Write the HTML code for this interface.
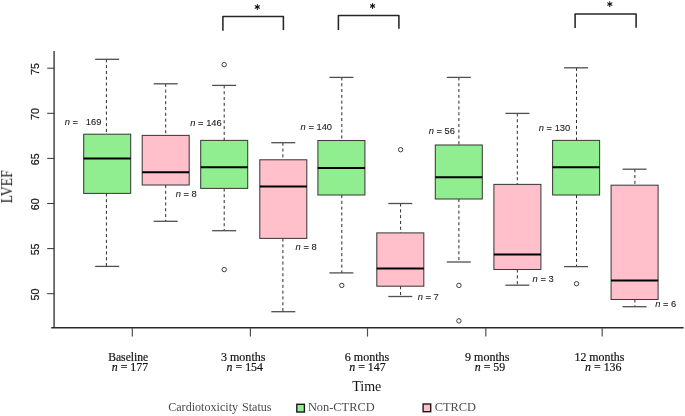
<!DOCTYPE html>
<html><head><meta charset="utf-8"><title>LVEF boxplot</title>
<style>
html,body{margin:0;padding:0;background:#fff;}
body{width:685px;height:416px;overflow:hidden;font-family:"Liberation Sans",sans-serif;}
svg{display:block;}
.sans{font-family:"Liberation Sans",sans-serif;}
.serif{font-family:"Liberation Serif",serif;}
</style></head><body>
<svg width="685" height="416" viewBox="0 0 685 416">
<defs><filter id="ga" x="-5%" y="-5%" width="110%" height="110%" color-interpolation-filters="sRGB"><feOffset dx="0" dy="0"/></filter></defs>
<rect x="0" y="0" width="685" height="416" fill="#ffffff"/>

<line x1="54.1" y1="51" x2="54.1" y2="328" stroke="#5c5c5c" stroke-width="1.7"/>
<line x1="51.2" y1="327.7" x2="683.6" y2="327.7" stroke="#2a2a2a" stroke-width="1.6"/>
<g stroke="#333" stroke-width="1" fill="none">
<line x1="47.2" y1="293.7" x2="54.3" y2="293.7"/>
<line x1="47.2" y1="248.6" x2="54.3" y2="248.6"/>
<line x1="47.2" y1="203.5" x2="54.3" y2="203.5"/>
<line x1="47.2" y1="158.4" x2="54.3" y2="158.4"/>
<line x1="47.2" y1="113.3" x2="54.3" y2="113.3"/>
<line x1="47.2" y1="68.2" x2="54.3" y2="68.2"/>
<line x1="132.3" y1="328" x2="132.3" y2="336.6" stroke="#505050" stroke-width="1.2"/>
<line x1="250.4" y1="328" x2="250.4" y2="336.6" stroke="#505050" stroke-width="1.2"/>
<line x1="367.5" y1="328" x2="367.5" y2="336.6" stroke="#505050" stroke-width="1.2"/>
<line x1="485.8" y1="328" x2="485.8" y2="336.6" stroke="#505050" stroke-width="1.2"/>
<line x1="602.2" y1="328" x2="602.2" y2="336.6" stroke="#505050" stroke-width="1.2"/>
</g>
<g class="sans" font-size="10.7" fill="#1a1a1a" stroke="#1a1a1a" stroke-width="0.25" text-anchor="middle" filter="url(#ga)">
<text transform="translate(39.2,294.5) rotate(-90)">50</text>
<text transform="translate(39.2,249.4) rotate(-90)">55</text>
<text transform="translate(39.2,204.3) rotate(-90)">60</text>
<text transform="translate(39.2,159.2) rotate(-90)">65</text>
<text transform="translate(39.2,114.1) rotate(-90)">70</text>
<text transform="translate(39.2,69.0) rotate(-90)">75</text>
</g>
<text class="serif" font-size="15.8" fill="#111" text-anchor="middle" filter="url(#ga)" transform="translate(12.1,186.7) rotate(-90) scale(0.87,1)">LVEF</text>
<g stroke="#2a2a2a" stroke-width="1" fill="none">
<line x1="106.4" y1="59.3" x2="106.4" y2="134.2" stroke-dasharray="3.1 2.7"/>
<line x1="106.4" y1="193.4" x2="106.4" y2="266.4" stroke-dasharray="3.1 2.7"/>
<line x1="95.2" y1="59.3" x2="119.2" y2="59.3" stroke="#4f4f4f" stroke-width="1.3"/>
<line x1="95.2" y1="266.4" x2="119.2" y2="266.4" stroke="#4f4f4f" stroke-width="1.3"/>
<rect x="83.7" y="134.2" width="47.0" height="59.2" fill="#90EE90" stroke="#3c3c3c" stroke-width="1.05"/>
<line x1="83.7" y1="158.5" x2="130.7" y2="158.5" stroke="#000" stroke-width="2.0"/>
</g>
<g stroke="#2a2a2a" stroke-width="1" fill="none">
<line x1="165.7" y1="83.8" x2="165.7" y2="135.4" stroke-dasharray="3.1 2.7"/>
<line x1="165.7" y1="185.0" x2="165.7" y2="221.3" stroke-dasharray="3.1 2.7"/>
<line x1="153.7" y1="83.8" x2="177.7" y2="83.8" stroke="#4f4f4f" stroke-width="1.3"/>
<line x1="153.7" y1="221.3" x2="177.7" y2="221.3" stroke="#4f4f4f" stroke-width="1.3"/>
<rect x="142.2" y="135.4" width="47.0" height="49.6" fill="#FFC0CB" stroke="#3c3c3c" stroke-width="1.05"/>
<line x1="142.2" y1="172.2" x2="189.2" y2="172.2" stroke="#000" stroke-width="2.0"/>
</g>
<g stroke="#2a2a2a" stroke-width="1" fill="none">
<line x1="224.2" y1="85.4" x2="224.2" y2="140.4" stroke-dasharray="3.1 2.7"/>
<line x1="224.2" y1="188.4" x2="224.2" y2="230.7" stroke-dasharray="3.1 2.7"/>
<line x1="212.2" y1="85.4" x2="236.2" y2="85.4" stroke="#4f4f4f" stroke-width="1.3"/>
<line x1="212.2" y1="230.7" x2="236.2" y2="230.7" stroke="#4f4f4f" stroke-width="1.3"/>
<rect x="200.7" y="140.4" width="47.0" height="48.0" fill="#90EE90" stroke="#3c3c3c" stroke-width="1.05"/>
<line x1="200.7" y1="167.2" x2="247.7" y2="167.2" stroke="#000" stroke-width="2.0"/>
<circle cx="224.2" cy="64.6" r="2.2" stroke-width="0.9"/>
<circle cx="224.2" cy="269.6" r="2.2" stroke-width="0.9"/>
</g>
<g stroke="#2a2a2a" stroke-width="1" fill="none">
<line x1="282.9" y1="142.7" x2="282.9" y2="159.8" stroke-dasharray="3.1 2.7"/>
<line x1="282.9" y1="238.4" x2="282.9" y2="311.7" stroke-dasharray="3.1 2.7"/>
<line x1="271.3" y1="142.7" x2="295.3" y2="142.7" stroke="#4f4f4f" stroke-width="1.3"/>
<line x1="271.3" y1="311.7" x2="295.3" y2="311.7" stroke="#4f4f4f" stroke-width="1.3"/>
<rect x="259.8" y="159.8" width="47.0" height="78.6" fill="#FFC0CB" stroke="#3c3c3c" stroke-width="1.05"/>
<line x1="259.8" y1="186.6" x2="306.8" y2="186.6" stroke="#000" stroke-width="2.0"/>
</g>
<g stroke="#2a2a2a" stroke-width="1" fill="none">
<line x1="341.8" y1="77.4" x2="341.8" y2="140.5" stroke-dasharray="3.1 2.7"/>
<line x1="341.8" y1="195.0" x2="341.8" y2="272.9" stroke-dasharray="3.1 2.7"/>
<line x1="329.4" y1="77.4" x2="353.4" y2="77.4" stroke="#4f4f4f" stroke-width="1.3"/>
<line x1="329.4" y1="272.9" x2="353.4" y2="272.9" stroke="#4f4f4f" stroke-width="1.3"/>
<rect x="317.9" y="140.5" width="47.0" height="54.5" fill="#90EE90" stroke="#3c3c3c" stroke-width="1.05"/>
<line x1="317.9" y1="168.0" x2="364.9" y2="168.0" stroke="#000" stroke-width="2.0"/>
<circle cx="341.8" cy="285.4" r="2.2" stroke-width="0.9"/>
</g>
<g stroke="#2a2a2a" stroke-width="1" fill="none">
<line x1="400.6" y1="203.5" x2="400.6" y2="232.9" stroke-dasharray="3.1 2.7"/>
<line x1="400.6" y1="286.2" x2="400.6" y2="296.5" stroke-dasharray="3.1 2.7"/>
<line x1="388.3" y1="203.5" x2="412.3" y2="203.5" stroke="#4f4f4f" stroke-width="1.3"/>
<line x1="388.3" y1="296.5" x2="412.3" y2="296.5" stroke="#4f4f4f" stroke-width="1.3"/>
<rect x="376.8" y="232.9" width="47.0" height="53.3" fill="#FFC0CB" stroke="#3c3c3c" stroke-width="1.05"/>
<line x1="376.8" y1="268.5" x2="423.8" y2="268.5" stroke="#000" stroke-width="2.0"/>
<circle cx="400.6" cy="149.7" r="2.2" stroke-width="0.9"/>
</g>
<g stroke="#2a2a2a" stroke-width="1" fill="none">
<line x1="458.9" y1="77.4" x2="458.9" y2="145.0" stroke-dasharray="3.1 2.7"/>
<line x1="458.9" y1="199.0" x2="458.9" y2="262.0" stroke-dasharray="3.1 2.7"/>
<line x1="446.8" y1="77.4" x2="470.8" y2="77.4" stroke="#4f4f4f" stroke-width="1.3"/>
<line x1="446.8" y1="262.0" x2="470.8" y2="262.0" stroke="#4f4f4f" stroke-width="1.3"/>
<rect x="435.3" y="145.0" width="47.0" height="54.0" fill="#90EE90" stroke="#3c3c3c" stroke-width="1.05"/>
<line x1="435.3" y1="177.3" x2="482.3" y2="177.3" stroke="#000" stroke-width="2.0"/>
<circle cx="458.9" cy="285.4" r="2.2" stroke-width="0.9"/>
<circle cx="458.9" cy="320.9" r="2.2" stroke-width="0.9"/>
</g>
<g stroke="#2a2a2a" stroke-width="1" fill="none">
<line x1="517.3" y1="113.4" x2="517.3" y2="184.4" stroke-dasharray="3.1 2.7"/>
<line x1="517.3" y1="269.5" x2="517.3" y2="285.2" stroke-dasharray="3.1 2.7"/>
<line x1="505.4" y1="113.4" x2="529.4" y2="113.4" stroke="#4f4f4f" stroke-width="1.3"/>
<line x1="505.4" y1="285.2" x2="529.4" y2="285.2" stroke="#4f4f4f" stroke-width="1.3"/>
<rect x="493.9" y="184.4" width="47.0" height="85.1" fill="#FFC0CB" stroke="#3c3c3c" stroke-width="1.05"/>
<line x1="493.9" y1="254.5" x2="540.9" y2="254.5" stroke="#000" stroke-width="2.0"/>
</g>
<g stroke="#2a2a2a" stroke-width="1" fill="none">
<line x1="576.5" y1="67.8" x2="576.5" y2="140.4" stroke-dasharray="3.1 2.7"/>
<line x1="576.5" y1="195.0" x2="576.5" y2="266.6" stroke-dasharray="3.1 2.7"/>
<line x1="564.1" y1="67.8" x2="588.1" y2="67.8" stroke="#4f4f4f" stroke-width="1.3"/>
<line x1="564.1" y1="266.6" x2="588.1" y2="266.6" stroke="#4f4f4f" stroke-width="1.3"/>
<rect x="552.6" y="140.4" width="47.0" height="54.6" fill="#90EE90" stroke="#3c3c3c" stroke-width="1.05"/>
<line x1="552.6" y1="167.3" x2="599.6" y2="167.3" stroke="#000" stroke-width="2.0"/>
<circle cx="576.5" cy="283.7" r="2.2" stroke-width="0.9"/>
</g>
<g stroke="#2a2a2a" stroke-width="1" fill="none">
<line x1="634.9" y1="169.2" x2="634.9" y2="185.2" stroke-dasharray="3.1 2.7"/>
<line x1="634.9" y1="299.5" x2="634.9" y2="306.7" stroke-dasharray="3.1 2.7"/>
<line x1="622.6" y1="169.2" x2="646.6" y2="169.2" stroke="#4f4f4f" stroke-width="1.3"/>
<line x1="622.6" y1="306.7" x2="646.6" y2="306.7" stroke="#4f4f4f" stroke-width="1.3"/>
<rect x="611.1" y="185.2" width="47.0" height="114.3" fill="#FFC0CB" stroke="#3c3c3c" stroke-width="1.05"/>
<line x1="611.1" y1="280.4" x2="658.1" y2="280.4" stroke="#000" stroke-width="2.0"/>
</g>
<g stroke="#262626" stroke-width="1.55" fill="none" stroke-linejoin="round">
<polyline points="222.9,30.8 222.9,16.4 283.4,16.4 283.4,30.1"/>
<polyline points="338.4,30.1 338.4,15.4 398.9,15.4 398.9,28.7"/>
<polyline points="575.1,28.1 575.1,14.0 636.1,14.0 636.1,27.7"/>
</g>
<g stroke="#111" stroke-width="1.05" stroke-linecap="round" fill="none">
<path d="M257.30,4.55L257.30,9.45M255.18,5.78L259.42,8.22M259.42,5.78L255.18,8.22"/>
<path d="M372.60,3.60L372.60,8.50M370.48,4.83L374.72,7.27M374.72,4.83L370.48,7.27"/>
<path d="M609.80,1.65L609.80,6.55M607.68,2.88L611.92,5.32M611.92,2.88L607.68,5.32"/>
</g>
<g class="sans" font-size="9.35" fill="#1a1a1a" stroke="#1a1a1a" stroke-width="0.1" filter="url(#ga)">
<text x="64.8" y="125.0" xml:space="preserve"><tspan font-style="italic">n</tspan> =   169</text>
<text x="175.7" y="197.0" xml:space="preserve"><tspan font-style="italic">n</tspan> = 8</text>
<text x="190.3" y="126.4" xml:space="preserve"><tspan font-style="italic">n</tspan> = 146</text>
<text x="295.6" y="250.3" xml:space="preserve"><tspan font-style="italic">n</tspan> = 8</text>
<text x="300.6" y="130.2" xml:space="preserve"><tspan font-style="italic">n</tspan> = 140</text>
<text x="417.7" y="299.5" xml:space="preserve"><tspan font-style="italic">n</tspan> = 7</text>
<text x="428.7" y="134.4" xml:space="preserve"><tspan font-style="italic">n</tspan> = 56</text>
<text x="532.6" y="281.7" xml:space="preserve"><tspan font-style="italic">n</tspan> = 3</text>
<text x="538.8" y="130.6" xml:space="preserve"><tspan font-style="italic">n</tspan> = 130</text>
<text x="655.2" y="306.7" xml:space="preserve"><tspan font-style="italic">n</tspan> = 6</text>
</g>
<g class="serif" font-size="11.9" fill="#111" stroke="#111" stroke-width="0.18" text-anchor="middle" filter="url(#ga)">
<text x="128.2" y="361.1" font-size="11.6">Baseline</text>
<text x="130.0" y="370.9"><tspan font-style="italic">n</tspan> = 177</text>
<text x="243.2" y="361.1" font-size="12.05">3 months</text>
<text x="244.8" y="370.9"><tspan font-style="italic">n</tspan> = 154</text>
<text x="367.0" y="361.1" font-size="12.05">6 months</text>
<text x="367.5" y="370.9"><tspan font-style="italic">n</tspan> = 147</text>
<text x="487.3" y="361.1" font-size="12.05">9 months</text>
<text x="490.0" y="370.9"><tspan font-style="italic">n</tspan> = 59</text>
<text x="599.4" y="361.1">12 months</text>
<text x="603.3" y="370.9"><tspan font-style="italic">n</tspan> = 136</text>
</g>
<text class="serif" font-size="15.6" fill="#111" text-anchor="middle" filter="url(#ga)" transform="translate(366.8,391.2) scale(0.9,1)">Time</text>
<g class="serif" font-size="12.1" fill="#4d4d4d" filter="url(#ga)">
<text x="168.2" y="411">Cardiotoxicity</text>
<text x="242.0" y="411">Status</text>
<text x="307.9" y="411" font-size="12.4">Non-CTRCD</text>
<text x="434.7" y="411" font-size="12.4">CTRCD</text>
</g>
<rect x="296.8" y="404.3" width="7.6" height="7.7" fill="#90EE90" stroke="#1a1a1a" stroke-width="1.4"/>
<rect x="423.1" y="404.0" width="7.6" height="7.7" fill="#FFC0CB" stroke="#1a1a1a" stroke-width="1.4"/>
</svg></body></html>
